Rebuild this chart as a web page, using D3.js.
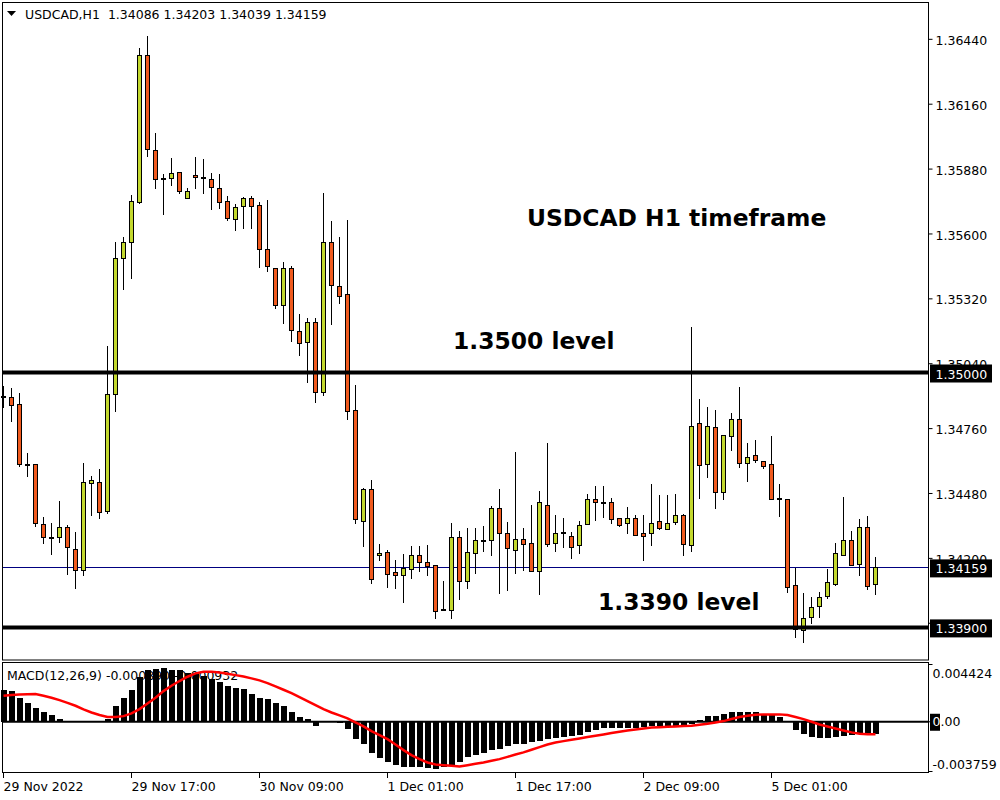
<!DOCTYPE html>
<html>
<head>
<meta charset="utf-8">
<script src="https://cdn.jsdelivr.net/npm/d3@7"></script>
<style>
  body { margin: 0; background: #fff; }
  svg { display: block; font-family: "DejaVu Sans", sans-serif; }
</style>
</head>
<body>
<svg id="chart" width="1000" height="800"></svg>
<script>
// USDCAD H1 bars (index 0 = 29 Nov 01:00)
var openP = [
  1.34894,1.34894,1.34860,1.34601,1.34605,1.34346,1.34286,1.34290,1.34329,1.34238,
  1.34148,1.34523,1.34527,1.34398,1.34907,1.35490,1.35559,1.35732,1.36366,1.35960,
  1.35835,1.35835,1.35861,1.35749,1.35852,1.35839,1.35835,1.35796,1.35736,1.35663,
  1.35719,1.35749,1.35719,1.35529,1.35447,1.35287,1.35447,1.35179,1.35127,1.35214,
  1.34916,1.35563,1.35373,1.35335,1.34834,1.34359,1.34497,1.34212,1.34225,1.34135,
  1.34126,1.34152,1.34212,1.34182,1.34169,1.33975,1.33975,1.34290,1.34100,1.34221,
  1.34273,1.34273,1.34415,1.34307,1.34234,1.34281,1.34260,1.34139,1.34428,1.34264,
  1.34307,1.34294,1.34251,1.34346,1.34454,1.34437,1.34441,1.34372,1.34350,1.34372,
  1.34307,1.34307,1.34355,1.34325,1.34350,1.34381,1.34256,1.34778,1.34601,1.34761,
  1.34480,1.34726,1.34799,1.34609,1.34640,1.34614,1.34605,1.34454,1.34450,1.34079,
  1.33889,1.33940,1.33988,1.34031,1.34083,1.34212,1.34273,1.34169,1.34333,1.34086
];
var highP = [
  1.34942,1.34933,1.34912,1.34653,1.34605,1.34376,1.34350,1.34445,1.34342,1.34312,
  1.34609,1.34553,1.34584,1.35114,1.35563,1.35585,1.35766,1.36401,1.36452,1.36034,
  1.35857,1.35926,1.35865,1.35796,1.35930,1.35921,1.35861,1.35857,1.35762,1.35727,
  1.35757,1.35762,1.35736,1.35745,1.35447,1.35477,1.35460,1.35253,1.35235,1.35235,
  1.35775,1.35654,1.35585,1.35658,1.34946,1.34502,1.34536,1.34260,1.34234,1.34191,
  1.34217,1.34251,1.34251,1.34256,1.34169,1.34100,1.34350,1.34316,1.34329,1.34329,
  1.34338,1.34424,1.34497,1.34355,1.34657,1.34329,1.34428,1.34489,1.34696,1.34385,
  1.34372,1.34312,1.34359,1.34476,1.34510,1.34510,1.34458,1.34372,1.34420,1.34385,
  1.34385,1.34519,1.34471,1.34471,1.34476,1.34389,1.35196,1.34886,1.34851,1.34838,
  1.34730,1.34825,1.34937,1.34696,1.34709,1.34618,1.34726,1.34519,1.34450,1.34156,
  1.34048,1.34031,1.34053,1.34152,1.34264,1.34463,1.34316,1.34368,1.34381,1.34203
];
var lowP = [
  1.34847,1.34786,1.34592,1.34549,1.34333,1.34260,1.34212,1.34264,1.34126,1.34066,
  1.34122,1.34381,1.34368,1.34389,1.34830,1.35356,1.35404,1.35727,1.35930,1.35792,
  1.35680,1.35805,1.35770,1.35749,1.35792,1.35770,1.35701,1.35706,1.35654,1.35611,
  1.35619,1.35619,1.35451,1.35434,1.35274,1.35209,1.35132,1.35071,1.34955,1.34868,
  1.34899,1.35205,1.35296,1.34795,1.34346,1.34247,1.34087,1.34186,1.34070,1.34066,
  1.34005,1.34109,1.34139,1.34122,1.33936,1.33971,1.33936,1.34018,1.34066,1.34130,
  1.34225,1.34208,1.34044,1.34057,1.34130,1.34143,1.34139,1.34040,1.34247,1.34225,
  1.34243,1.34195,1.34217,1.34346,1.34359,1.34372,1.34346,1.34333,1.34303,1.34299,
  1.34186,1.34251,1.34320,1.34320,1.34342,1.34208,1.34225,1.34454,1.34545,1.34411,
  1.34450,1.34661,1.34588,1.34527,1.34609,1.34584,1.34450,1.34376,1.34048,1.33854,
  1.33833,1.33915,1.33940,1.34022,1.34079,1.34208,1.34165,1.34122,1.34061,1.34039
];
var closeP = [
  1.34890,1.34860,1.34601,1.34601,1.34350,1.34290,1.34286,1.34333,1.34243,1.34148,
  1.34527,1.34536,1.34398,1.34903,1.35494,1.35559,1.35736,1.36366,1.35960,1.35835,
  1.35835,1.35857,1.35779,1.35779,1.35844,1.35839,1.35801,1.35736,1.35663,1.35714,
  1.35753,1.35714,1.35529,1.35455,1.35287,1.35447,1.35179,1.35127,1.35214,1.34912,
  1.35563,1.35378,1.35330,1.34830,1.34363,1.34497,1.34109,1.34221,1.34130,1.34122,
  1.34156,1.34212,1.34182,1.34165,1.33971,1.33975,1.34290,1.34100,1.34225,1.34277,
  1.34273,1.34411,1.34307,1.34243,1.34281,1.34260,1.34139,1.34437,1.34260,1.34307,
  1.34307,1.34247,1.34338,1.34454,1.34441,1.34437,1.34368,1.34342,1.34372,1.34299,
  1.34294,1.34350,1.34325,1.34350,1.34381,1.34256,1.34769,1.34596,1.34765,1.34480,
  1.34726,1.34799,1.34609,1.34635,1.34618,1.34592,1.34454,1.34454,1.34070,1.33889,
  1.33940,1.33984,1.34027,1.34092,1.34217,1.34277,1.34165,1.34329,1.34079,1.34159
];

// MACD(12,26,9): main value (histogram) and signal line
var macdMain = [
  0.00237,0.00227,0.00177,0.00143,0.00106,0.00071,0.00048,0.00019,0.00006,0.00001,
  0.00002,0.00008,0.00003,0.00024,0.00115,0.00177,0.00237,0.00336,0.00385,0.00391,
  0.00400,0.00383,0.00383,0.00366,0.00359,0.00341,0.00316,0.00294,0.00269,0.00254,
  0.00247,0.00210,0.00177,0.00170,0.00138,0.00115,0.00073,0.00039,0.00019,-0.00033,
  0.00000,-0.00004,-0.00012,-0.00051,-0.00130,-0.00167,-0.00232,-0.00269,-0.00299,-0.00318,
  -0.00333,-0.00336,-0.00336,-0.00343,-0.00348,-0.00333,-0.00324,-0.00299,-0.00262,-0.00244,
  -0.00229,-0.00210,-0.00199,-0.00179,-0.00169,-0.00164,-0.00149,-0.00144,-0.00129,-0.00124,
  -0.00114,-0.00109,-0.00099,-0.00079,-0.00060,-0.00050,-0.00050,-0.00050,-0.00047,-0.00045,
  -0.00040,-0.00035,-0.00030,-0.00030,-0.00030,-0.00025,-0.00015,0.00015,0.00040,0.00040,
  0.00055,0.00069,0.00069,0.00069,0.00069,0.00055,0.00055,0.00035,-0.00002,-0.00060,
  -0.00094,-0.00114,-0.00119,-0.00124,-0.00114,-0.00109,-0.00099,-0.00094,-0.00094,-0.00089
];
var macdSignal = [
  0.00194,0.00200,0.00203,0.00205,0.00206,0.00194,0.00179,0.00161,0.00141,0.00119,
  0.00092,0.00069,0.00050,0.00035,0.00035,0.00042,0.00062,0.00094,0.00136,0.00179,
  0.00228,0.00268,0.00303,0.00335,0.00360,0.00372,0.00372,0.00367,0.00357,0.00347,
  0.00337,0.00323,0.00308,0.00288,0.00263,0.00238,0.00213,0.00184,0.00154,0.00124,
  0.00094,0.00069,0.00047,0.00025,-0.00005,-0.00035,-0.00069,-0.00099,-0.00129,-0.00169,
  -0.00211,-0.00248,-0.00278,-0.00303,-0.00318,-0.00323,-0.00328,-0.00333,-0.00323,-0.00313,
  -0.00303,-0.00290,-0.00278,-0.00261,-0.00243,-0.00228,-0.00208,-0.00189,-0.00169,-0.00154,
  -0.00144,-0.00134,-0.00124,-0.00114,-0.00104,-0.00094,-0.00084,-0.00074,-0.00065,-0.00057,
  -0.00050,-0.00042,-0.00040,-0.00037,-0.00035,-0.00032,-0.00030,-0.00022,-0.00015,-0.00005,
  0.00005,0.00020,0.00035,0.00045,0.00052,0.00055,0.00055,0.00055,0.00050,0.00035,
  0.00020,0.00000,-0.00020,-0.00035,-0.00050,-0.00065,-0.00079,-0.00089,-0.00093,-0.00093
];
var macdSignalLast = -0.000932;

var priceTicks = [1.36440, 1.36160, 1.35880, 1.35600, 1.35320, 1.35040, 1.34760, 1.34480, 1.34200, 1.33920];
var levelLines = [1.35000, 1.33900];
var bidPrice = 1.34159;
var markedPrices = [1.35000, 1.34159, 1.33900];
var macdTicks = [0.004424, 0.0, -0.003759];
var macdTickLabels = ["0.004424", "0.00", "-0.003759"];
var timeTickIdx = [0, 16, 32, 48, 64, 80, 96];
var timeTickLabels = ["29 Nov 2022", "29 Nov 17:00", "30 Nov 09:00", "1 Dec 01:00", "1 Dec 17:00", "2 Dec 09:00", "5 Dec 01:00"];

var upColor = "#c3d82e", downColor = "#f05a1e";
var svg = d3.select("#chart");
var n = openP.length;

var x = d3.scaleLinear().domain([0, n - 1]).range([3.5, 3.5 + 8 * (n - 1)]);
var y = d3.scaleLinear().domain([1.339, 1.35]).range([627.4, 372.5]);
var ym = d3.scaleLinear().domain([-0.003759, 0.004424]).range([772.3, 662.3]);
function snap(v) { return Math.round(v - 0.5) + 0.5; }
// MT4 prints a plain hyphen, not the unicode minus d3.format uses
function fmt(spec) { var f = d3.format(spec); return function(v) { return f(v).replace("\u2212", "-"); }; }

// frames
svg.append("rect").attr("x", 2.5).attr("y", 2.5).attr("width", 926).attr("height", 657.5)
  .attr("fill", "none").attr("stroke", "#000");
svg.append("rect").attr("x", 2.5).attr("y", 662.5).attr("width", 926).attr("height", 110)
  .attr("fill", "none").attr("stroke", "#000");

// header
svg.append("path").attr("d", "M7,11H16L11.5,16Z").attr("fill", "#000");
svg.append("text").attr("x", 25).attr("y", 18.5).attr("font-size", 12.5).attr("fill", "#000")
  .attr("xml:space", "preserve")
  .text("USDCAD,H1  " + [openP[n-1], highP[n-1], lowP[n-1], closeP[n-1]].map(fmt(".5f")).join(" "));

// bid line behind the bars
svg.append("line").attr("x1", 3).attr("x2", 928).attr("y1", snap(y(bidPrice))).attr("y2", snap(y(bidPrice)))
  .attr("stroke", "#000080").attr("stroke-width", 1);

// candles
var cg = svg.append("g").attr("shape-rendering", "crispEdges");
d3.range(n).forEach(function(i) {
  var cx = x(i);
  cg.append("line").attr("x1", cx).attr("x2", cx)
    .attr("y1", Math.round(y(highP[i]))).attr("y2", Math.round(y(lowP[i])))
    .attr("stroke", "#000");
  var top = y(Math.max(openP[i], closeP[i])), bot = y(Math.min(openP[i], closeP[i]));
  if (bot - top < 1.5) {
    cg.append("line").attr("x1", cx - 2.5).attr("x2", cx + 2.5)
      .attr("y1", Math.round(top)).attr("y2", Math.round(top))
      .attr("stroke", "#000").attr("stroke-width", 2);
  } else {
    cg.append("rect").attr("x", cx - 2).attr("width", 4)
      .attr("y", snap(top)).attr("height", Math.round(bot - top))
      .attr("fill", closeP[i] > openP[i] ? upColor : downColor)
      .attr("stroke", "#000");
  }
});

// level lines
svg.selectAll(".level").data(levelLines).enter().append("line")
  .attr("x1", 3).attr("x2", 928)
  .attr("y1", function(d) { return y(d); }).attr("y2", function(d) { return y(d); })
  .attr("stroke", "#000").attr("stroke-width", 4);

// annotations
var notes = svg.append("g").attr("font-weight", "bold").attr("font-size", 23.4).attr("fill", "#000");
notes.append("text").attr("x", 527).attr("y", 226).text("USDCAD H1 timeframe");
notes.append("text").attr("x", 453).attr("y", 349).text("1.3500 level");
notes.append("text").attr("x", 598).attr("y", 610).text("1.3390 level");

// price axis
var pAxis = svg.append("g").attr("transform", "translate(928.5,0)")
  .call(d3.axisRight(y).tickValues(priceTicks).tickSize(4).tickFormat(fmt(".5f")));
pAxis.select(".domain").remove();
pAxis.attr("font-family", "DejaVu Sans").attr("font-size", 12.5);
pAxis.selectAll("text").attr("dy", "0.45em").attr("fill", "#000");

var marks = svg.selectAll(".mark").data(markedPrices).enter().append("g");
marks.append("rect").attr("x", 930).attr("width", 62)
  .attr("y", function(d) { return y(d) - 8; }).attr("height", 18).attr("fill", "#000");
marks.append("text").attr("x", 935.5).attr("y", function(d) { return y(d) + 6; })
  .attr("font-size", 12.5).attr("fill", "#fff").text(function(d) { return fmt(".5f")(d); });

// MACD pane
svg.append("text").attr("x", 7).attr("y", 680).attr("font-size", 12.5).attr("fill", "#000")
  .text("MACD(12,26,9) " + fmt(".6f")(macdMain[n-1]) + " " + fmt(".6f")(macdSignalLast));

svg.append("g").attr("shape-rendering", "crispEdges").selectAll("rect").data(macdMain).enter().append("rect")
  .attr("x", function(d, i) { return x(i) - 3; }).attr("width", 6)
  .attr("y", function(d) { return Math.min(ym(d), ym(0)); })
  .attr("height", function(d) { return Math.abs(ym(d) - ym(0)); })
  .attr("fill", "#000");

svg.append("line").attr("x1", 3).attr("x2", 928).attr("y1", ym(0)).attr("y2", ym(0))
  .attr("stroke", "#000").attr("stroke-width", 2);

svg.append("path").datum(macdSignal)
  .attr("d", d3.line().x(function(d, i) { return x(i); }).y(function(d) { return ym(d); }))
  .attr("fill", "none").attr("stroke", "#ff0000").attr("stroke-width", 2.5);

// MACD axis
svg.append("rect").attr("x", 930).attr("y", ym(0) - 8).attr("width", 10).attr("height", 17).attr("fill", "#000");
var macdLabelY = [ym(macdTicks[0]) + 15.4, ym(0) + 4.6, ym(macdTicks[2]) - 3.3];
macdTicks.forEach(function(v, k) {
  var ty = k === 0 ? 664.5 : (k === 2 ? 771.5 : ym(0));
  svg.append("line").attr("x1", 928.5).attr("x2", 932.5).attr("y1", ty).attr("y2", ty).attr("stroke", "#000");
  var t = svg.append("text").attr("x", 932.5).attr("y", macdLabelY[k]).attr("font-size", 12.5).attr("fill", "#000");
  if (v === 0) {
    t.append("tspan").attr("fill", "#fff").text(macdTickLabels[k].slice(0, 1));
    t.append("tspan").text(macdTickLabels[k].slice(1));
  } else {
    t.text(macdTickLabels[k]);
  }
});

// time axis
var tg = svg.append("g").selectAll("g").data(timeTickIdx).enter().append("g");
tg.append("line").attr("x1", function(d) { return snap(x(d)); }).attr("x2", function(d) { return snap(x(d)); })
  .attr("y1", 773).attr("y2", 778).attr("stroke", "#000");
tg.append("text").attr("x", function(d) { return x(d); }).attr("y", 791)
  .attr("font-size", 12.5).attr("fill", "#000")
  .text(function(d, k) { return timeTickLabels[k]; });
</script>
</body>
</html>
